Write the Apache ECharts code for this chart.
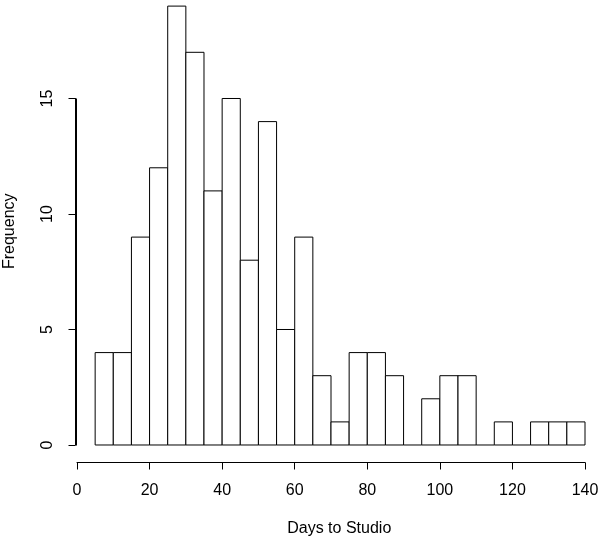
<!DOCTYPE html>
<html>
<head>
<meta charset="utf-8">
<script src="https://cdn.jsdelivr.net/npm/echarts@6/dist/echarts.min.js"></script>
<style>
  html, body { margin: 0; padding: 0; background: #fff; }
  #chart { width: 603px; height: 542px; }
</style>
</head>
<body>
<div id="chart"></div>
<script>
// histogram bins (left edge, width 5 days) and counts
var binLeft = [5, 10, 15, 20, 25, 30, 35, 40, 45, 50, 55, 60, 65, 70, 75, 80, 85, 90, 95, 100, 105, 110, 115, 120, 125, 130, 135]
var frequency = [4, 4, 9, 12, 19, 17, 11, 15, 8, 14, 5, 9, 3, 1, 4, 4, 3, 0, 2, 3, 3, 0, 1, 0, 1, 1, 1]
var binWidth = 5
var xTicks = [0, 20, 40, 60, 80, 100, 120, 140]
var yTicks = [0, 5, 10, 15]

var FONT = 'Liberation Sans, Arial, Helvetica, sans-serif'
var X_MIN = -0.413  // left edge of R's plot region

var bins = binLeft.map(function (x, i) {
  return [x, x + binWidth, frequency[i]]
})

var chart = echarts.init(document.getElementById('chart'))

var option = {
  animation: false,
  backgroundColor: '#fff',
  grid: [
    // plot region, extended to the picture edges (top is cut off like in R output)
    { left: 75.5, right: 0, top: 0, bottom: 79.5, outerBoundsMode: 'none' },
    // x axis drawn only from 0 to 140
    { left: 77, right: 18, top: 100, bottom: 79.5, outerBoundsMode: 'none' },
    // y axis drawn only from 0 to 15
    { left: 75.5, right: 100, top: 98.5, bottom: 97, outerBoundsMode: 'none' }
  ],
  xAxis: [
    {
      gridIndex: 0, type: 'value', min: X_MIN, max: 144.96,
      axisLine: { show: false }, axisTick: { show: false },
      axisLabel: { show: false }, splitLine: { show: false },
      name: 'Days to Studio', nameLocation: 'middle', nameGap: 58,
      nameTextStyle: { fontFamily: FONT, fontSize: 16, color: '#000' }
    },
    {
      gridIndex: 1, type: 'value', min: xTicks[0], max: xTicks[xTicks.length - 1], interval: 20,
      axisLine: { onZero: false, lineStyle: { color: '#000', width: 1 } },
      axisTick: { length: 7, lineStyle: { color: '#000' } },
      axisLabel: { margin: 20, fontFamily: FONT, fontSize: 16, color: '#000' },
      splitLine: { show: false }
    },
    { gridIndex: 2, type: 'value', show: false }
  ],
  yAxis: [
    {
      gridIndex: 0, type: 'value', min: -0.758, max: 19.264,
      axisLine: { show: false }, axisTick: { show: false },
      axisLabel: { show: false }, splitLine: { show: false },
      name: 'Frequency', nameLocation: 'middle', nameGap: 58, nameRotate: 90,
      nameTextStyle: { fontFamily: FONT, fontSize: 16, color: '#000' }
    },
    { gridIndex: 1, type: 'value', show: false },
    {
      gridIndex: 2, type: 'value', min: yTicks[0], max: yTicks[yTicks.length - 1], interval: 5,
      axisLine: { show: true, onZero: false, lineStyle: { color: '#000', width: 1 } },
      axisTick: { show: true, length: 7, lineStyle: { color: '#000' } },
      axisLabel: { rotate: 90, margin: 20, fontFamily: FONT, fontSize: 16, color: '#000' },
      splitLine: { show: false }
    }
  ],
  series: [
    {
      type: 'custom',
      xAxisIndex: 0,
      yAxisIndex: 0,
      data: bins,
      renderItem: function (params, api) {
        var p0 = api.coord([api.value(0), 0])
        var p1 = api.coord([api.value(1), api.value(2)])
        if (api.value(2) === 0) {
          return {
            type: 'line',
            shape: { x1: p0[0], y1: p0[1], x2: p1[0], y2: p0[1] },
            style: { stroke: '#000', lineWidth: 1 }
          }
        }
        return {
          type: 'rect',
          shape: { x: p0[0], y: p1[1], width: p1[0] - p0[0], height: p0[1] - p1[1] },
          style: { fill: '#fff', stroke: '#000', lineWidth: 1 }
        }
      }
    },
    {
      // vertical axis line, from first to last y tick, like R's axis()
      type: 'custom',
      xAxisIndex: 0,
      yAxisIndex: 0,
      clip: false,
      data: [[X_MIN, yTicks[0], yTicks[yTicks.length - 1]]],
      renderItem: function (params, api) {
        var a = api.coord([api.value(0), api.value(1)])
        var b = api.coord([api.value(0), api.value(2)])
        var x = Math.round(a[0]) + 0.5
        return {
          type: 'line',
          shape: { x1: x, y1: Math.round(a[1]) + 0.5, x2: x, y2: Math.round(b[1]) + 0.5 },
          style: { stroke: '#000', lineWidth: 1 }
        }
      }
    }
  ]
}

chart.setOption(option, true)
</script>
</body>
</html>
